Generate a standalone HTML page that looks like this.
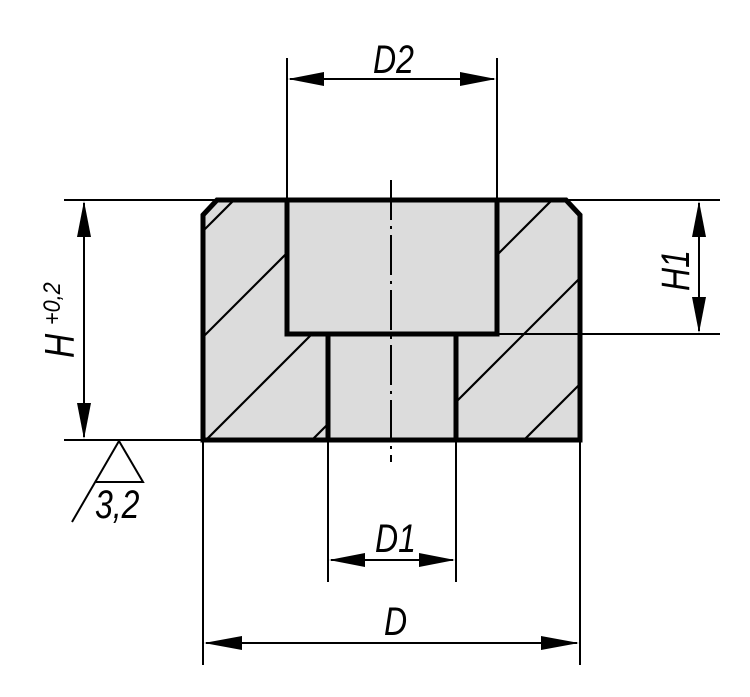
<!DOCTYPE html>
<html><head><meta charset="utf-8"><style>
html,body{margin:0;padding:0;background:#fff;}
svg{display:block;}
text{font-family:"Liberation Sans",sans-serif;font-style:italic;fill:#000;}
</style></head><body>
<svg width="750" height="697" viewBox="0 0 750 697" xmlns="http://www.w3.org/2000/svg">
<defs>
<clipPath id="mat">
<path d="M203,215 L217,200 L566,200 L580,215 L580,440 L203,440 Z M287,200 L287,334 L328,334 L328,440 L456,440 L456,334 L497,334 L497,200 Z" clip-rule="evenodd" fill-rule="evenodd"/>
</clipPath>
</defs>
<path d="M203,215 L217,200 L566,200 L580,215 L580,440 L203,440 Z" fill="#dcdcdc"/>
<g clip-path="url(#mat)" stroke="#000" stroke-width="2.2">
<line x1="134" y1="300" x2="334" y2="100"/>
<line x1="140" y1="400" x2="440" y2="100"/>
<line x1="146" y1="500" x2="546" y2="100"/>
<line x1="252" y1="500" x2="652" y2="100"/>
<line x1="358" y1="500" x2="758" y2="100"/>
<line x1="464" y1="500" x2="864" y2="100"/>
</g>
<g stroke="#000" stroke-width="2" fill="none">
<line x1="64" y1="200" x2="720" y2="200"/>
<line x1="64" y1="440" x2="205" y2="440"/>
<line x1="497" y1="334" x2="720" y2="334"/>
<line x1="287" y1="58" x2="287" y2="200"/>
<line x1="497" y1="58" x2="497" y2="200"/>
<line x1="328" y1="440" x2="328" y2="582"/>
<line x1="456" y1="440" x2="456" y2="582"/>
<line x1="203" y1="440" x2="203" y2="665"/>
<line x1="580" y1="440" x2="580" y2="665"/>
<line x1="290" y1="79" x2="494" y2="79"/>
<line x1="331" y1="560" x2="453" y2="560"/>
<line x1="206" y1="643" x2="577" y2="643"/>
<line x1="84" y1="203" x2="84" y2="437"/>
<line x1="699" y1="203" x2="699" y2="331"/>
</g>
<g fill="#000">
<path d="M288,79 L324,72 L324,86 Z"/>
<path d="M496,79 L460,72 L460,86 Z"/>
<path d="M329,560 L365,553 L365,567 Z"/>
<path d="M455,560 L419,553 L419,567 Z"/>
<path d="M204,643 L242,636 L242,650 Z"/>
<path d="M579,643 L541,636 L541,650 Z"/>
<path d="M84,201 L77,237 L91,237 Z"/>
<path d="M84,439 L77,403 L91,403 Z"/>
<path d="M699,201 L692,237 L706,237 Z"/>
<path d="M699,333 L692,297 L706,297 Z"/>
</g>
<g stroke="#000" stroke-width="5" fill="none" stroke-linejoin="miter">
<path d="M203,215 L217,200 L566,200 L580,215 L580,440 L203,440 Z"/>
<path d="M287,200 L287,334 L497,334 L497,200"/>
<line x1="328" y1="334" x2="328" y2="440"/>
<line x1="456" y1="334" x2="456" y2="440"/>
</g>
<line x1="391" y1="180" x2="391" y2="462" stroke="#000" stroke-width="2" stroke-dasharray="40,6,3,6"/>
<g stroke="#000" stroke-width="2" fill="none">
<path d="M72,522 L119,441 L143,482 L96,482"/>
</g>
<text font-size="40" transform="translate(373 73) scale(0.8 1)">D2</text>
<text font-size="40" transform="translate(375 552) scale(0.8 1)">D1</text>
<text font-size="40" transform="translate(384 635) scale(0.8 1)">D</text>
<text font-size="40" transform="translate(95 518) scale(0.8 1)">3,2</text>
<text font-size="40" transform="translate(689 291) rotate(-90) scale(0.8 1)">H1</text>
<text font-size="42" transform="translate(74 358) rotate(-90) scale(0.8 1)">H</text>
<text font-size="24" transform="translate(60 325) rotate(-90) scale(0.9 1)">+0,2</text>
</svg>
</body></html>
